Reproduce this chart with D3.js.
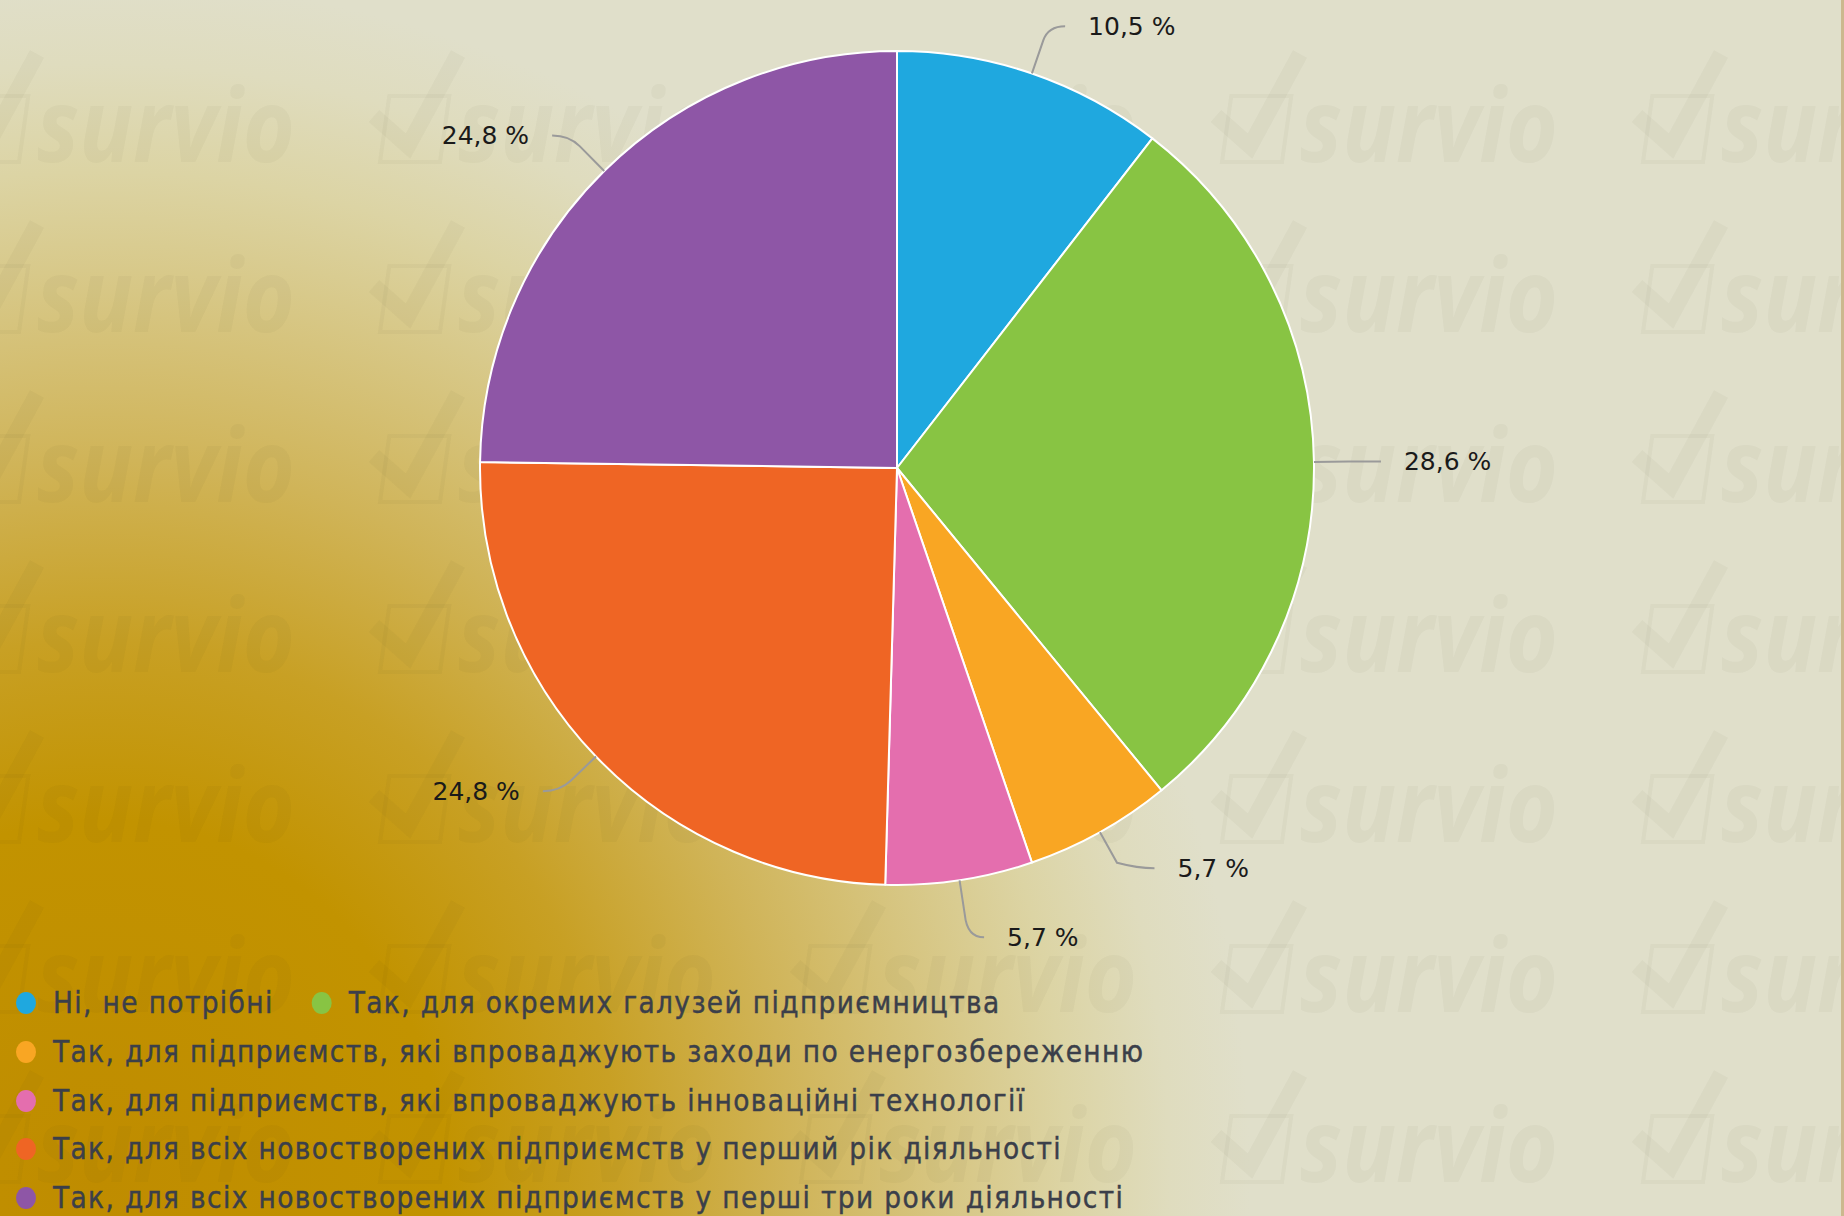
<!DOCTYPE html>
<html>
<head>
<meta charset="utf-8">
<script src="https://cdn.jsdelivr.net/npm/d3@7"></script>
<style>
html,body{margin:0;padding:0;background:#e0dfca;overflow:hidden;}
svg{display:block;}
</style>
</head>
<body>
<svg id="chart" width="1844" height="1216"></svg>
<script>
// ---- data ----
const categories = [
  "Ні, не потрібні",
  "Так, для окремих галузей підприємництва",
  "Так, для підприємств, які впроваджують заходи по енергозбереженню",
  "Так, для підприємств, які впроваджують інноваційні технології",
  "Так, для всіх новостворених підприємств у перший рік діяльності",
  "Так, для всіх новостворених підприємств у перші три роки діяльності"
];
const values = [10.5, 28.6, 5.7, 5.7, 24.8, 24.8];
const valueLabels = ["10,5 %", "28,6 %", "5,7 %", "5,7 %", "24,8 %", "24,8 %"];
const colors = ["#1fa8df", "#88c443", "#f9a623", "#e46eae", "#ef6524", "#8e56a6"];
const legendRows = [[0, 1], [2], [3], [4], [5]];

const W = 1844, H = 1216;
const svg = d3.select("#chart");

// ---- background ----
const defs = svg.append("defs");
const grad = defs.append("radialGradient")
  .attr("id", "bg").attr("gradientUnits", "userSpaceOnUse")
  .attr("cx", 0).attr("cy", 0).attr("r", 1)
  .attr("gradientTransform", "translate(100,1180) scale(1150,1200)");
[[0, "#bf8c00"], [0.3, "#c29300"], [0.45, "#c8a024"], [0.6, "#d0b458"], [0.72, "#d6c47e"],
 [0.84, "#dcd4a4"], [0.93, "#dfdcbe"], [1, "#e0dfca"]].forEach(s =>
  grad.append("stop").attr("offset", s[0]).attr("stop-color", s[1]));
svg.append("rect").attr("width", W).attr("height", H).attr("fill", "url(#bg)");

// ---- watermark tiles ----
const wm = svg.append("g").attr("fill", "rgba(70,60,30,0.035)").attr("stroke", "rgba(70,60,30,0.035)");
for (let r = 0; r < 8; r++) {
  for (let c = 0; c < 5; c++) {
    const x = 37 + c * 421, y = 162 + r * 170; // text start, baseline
    const t = wm.append("g").attr("transform", `translate(${x},${y})`);
    t.append("rect").attr("x", -78).attr("y", -66).attr("width", 60).attr("height", 66)
      .attr("fill", "none").attr("stroke-width", 4).attr("transform", "skewX(-8)");
    t.append("polyline").attr("points", "-84,-46 -50,-16 0,-108")
      .attr("fill", "none").attr("stroke-width", 16).attr("stroke-linejoin", "miter");
    t.append("text").attr("x", 0).attr("y", 0)
      .attr("font-family", "'Open Sans', 'DejaVu Sans'").attr("font-weight", 700)
      .attr("font-style", "italic").attr("font-size", 102)
      .attr("textLength", 258).attr("lengthAdjust", "spacingAndGlyphs")
      .attr("stroke", "none").text("survio");
  }
}

// right edge strip
svg.append("rect").attr("x", W - 3).attr("y", 0).attr("width", 3).attr("height", H).attr("fill", "#cbb88e");

// ---- pie ----
const cx = 897, cy = 468, R = 417;
const pie = d3.pie().sort(null).value(d => d);
const arcs = pie(values);
const arc = d3.arc().innerRadius(0).outerRadius(R);
const g = svg.append("g").attr("transform", `translate(${cx},${cy})`);
g.selectAll("path.slice").data(arcs).join("path").attr("class", "slice")
  .attr("d", arc).attr("fill", (d, i) => colors[i])
  .attr("stroke", "#ffffff").attr("stroke-width", 2).attr("stroke-linejoin", "round");

// ---- labels with connectors ----
const RL = R + 50, minGap = 69;
const lab = arcs.map((d, i) => {
  const a = (d.startAngle + d.endAngle) / 2;
  const sx = Math.sin(a), sy = -Math.cos(a);
  return { i, sx, sy, right: sx >= 0, y: cy + sy * RL };
});
// simple collision resolution per side
[true, false].forEach(side => {
  const L = lab.filter(l => l.right === side).sort((a, b) => a.y - b.y);
  for (let k = 1; k < L.length; k++) {
    const gap = L[k].y - L[k - 1].y;
    if (gap < minGap) {
      const s = (minGap - gap) / 2;
      L[k - 1].y -= s; L[k].y += s;
    }
  }
});
const lbl = svg.append("g");
lab.forEach(l => {
  const p0 = [cx + l.sx * R, cy + l.sy * R];
  const p1 = [cx + l.sx * (R + 35), cy + l.sy * (R + 35)];
  const dy = l.y - cy;
  let ax = cx + l.sx * RL;
  if (Math.abs(dy) < RL) {
    const dx = Math.sqrt(RL * RL - dy * dy);
    ax = l.right ? Math.max(ax, cx + dx) : Math.min(ax, cx - dx);
  }
  const pa = [ax, l.y];
  const pe = [pa[0] + (l.right ? 17 : -17), pa[1]];
  lbl.append("path")
    .attr("d", `M${p0[0]},${p0[1]}L${p1[0]},${p1[1]}Q${pa[0]},${pa[1]} ${pe[0]},${pe[1]}`)
    .attr("fill", "none").attr("stroke", "#9a9a9a").attr("stroke-width", 2);
  lbl.append("text")
    .attr("x", pe[0] + (l.right ? 23 : -23)).attr("y", pa[1])
    .attr("text-anchor", l.right ? "start" : "end")
    .attr("dominant-baseline", "central")
    .attr("font-family", "'DejaVu Sans'").attr("font-size", 25)
    .attr("fill", "#1a1a1a").text(valueLabels[l.i]);
});

// ---- legend ----
const leg = svg.append("g");
const legFont = "'DejaVu Sans Condensed', 'DejaVu Sans'";
const targetW = 1090; // width of the longest entry in the reference
const probe = leg.append("text").attr("font-family", legFont).attr("font-size", 26).text(categories[2]);
const fitFs = 26 * targetW / probe.node().getComputedTextLength();
const fs = fitFs * 0.92;
probe.attr("font-size", fs);
const nChars = categories[2].length;
const ls = (targetW - probe.node().getComputedTextLength()) / (nChars - 1);
probe.remove();
const rowY = [1003, 1052, 1101, 1149, 1198];
legendRows.forEach((row, ri) => {
  let x = 26;
  row.forEach(idx => {
    leg.append("ellipse").attr("cx", x).attr("cy", rowY[ri]).attr("rx", 10).attr("ry", 11)
      .attr("fill", colors[idx]);
    const t = leg.append("text").attr("x", x + 27).attr("y", rowY[ri])
      .attr("dominant-baseline", "central")
      .attr("font-family", legFont).attr("font-size", fs)
      .attr("letter-spacing", ls)
      .attr("fill", "#3b3f4a").attr("stroke", "#3b3f4a").attr("stroke-width", 0.4)
      .text(categories[idx]);
    x = x + 27 + t.node().getComputedTextLength() + 48;
  });
});
</script>
</body>
</html>
